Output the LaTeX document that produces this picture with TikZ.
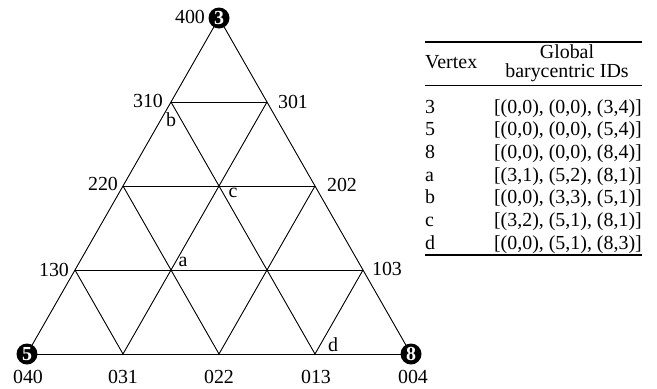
\documentclass[tikz,border=0pt]{standalone}
\usepackage{fontspec}
\setmainfont{Liberation Serif}
\begin{document}
\begin{tikzpicture}[x=1bp,y=-1bp,
  every node/.style={font=\fontsize{20}{24}\selectfont, inner sep=0pt},
  edge/.style={line width=0.9bp, black},
  corner/.style={circle, fill=black, text=white, minimum size=21bp, font=\fontsize{20}{24}\selectfont\bfseries},
  lab/.style={anchor=center},
  toprule/.style={line width=1.3bp},
  midrule/.style={line width=0.8bp}]
\useasboundingbox (0,0) rectangle (657,388);
% grid vertices
\foreach \k in {0,...,4}{
  \foreach \j in {0,...,\k}{
    \coordinate (v-\k-\j) at ({219-48*\k+96*\j},{18+84*\k});
  }
}
% horizontal lines
\foreach \k in {1,...,4}{ \draw[edge] (v-\k-0) -- (v-\k-\k); }
% lines parallel to left side
\foreach \j in {0,...,3}{ \draw[edge] (v-\j-\j) -- (v-4-\j); }
% lines parallel to right side
\foreach \m [evaluate=\m as \e using int(4-\m)] in {0,...,3}{ \draw[edge] (v-\m-0) -- (v-4-\e); }
% corner markers
\node[corner] (c3) at (v-0-0) {3};
\node[corner] (c5) at (v-4-0) {5};
\node[corner] (c8) at (v-4-4) {8};
% vertex labels
\node[lab] (l400) at (190,17) {400};
\node[lab] (l310) at (148,101) {310};
\node[lab] (l301) at (293,102) {301};
\node[lab] (l220) at (103,184) {220};
\node[lab] (l202) at (342,185) {202};
\node[lab] (l130) at (54,270) {130};
\node[lab] (l103) at (387,269) {103};
\node[lab] (l040) at (28,377) {040};
\node[lab] (l031) at (123,377) {031};
\node[lab] (l022) at (219,377) {022};
\node[lab] (l013) at (316,377) {013};
\node[lab] (l004) at (413,377) {004};
\node[lab] (lb) at (171,120) {b};
\node[lab] (lc) at (233,193) {c};
\node[lab] (la) at (183,262) {a};
\node[lab] (ld) at (333,345) {d};
% table
\coordinate (tl) at (425,42); \coordinate (tr) at (642,42);
\coordinate (ml) at (425,85); \coordinate (mr) at (642,85);
\coordinate (bl) at (425,255); \coordinate (br) at (642,255);
\draw[toprule] (tl) -- (tr);
\draw[midrule] (ml) -- (mr);
\draw[toprule] (bl) -- (br);
\node[anchor=base west] (hv) at (425,68) {Vertex};
\node[anchor=base] (hg) at (567,58) {Global};
\node[anchor=base] (hb) at (567,77) {barycentric IDs};
\foreach \n/\v/\t [count=\i from 0] in {r3/3/{[(0,0), (0,0), (3,4)]},
  r5/5/{[(0,0), (0,0), (5,4)]},
  r8/8/{[(0,0), (0,0), (8,4)]},
  ra/a/{[(3,1), (5,2), (8,1)]},
  rb/b/{[(0,0), (3,3), (5,1)]},
  rc/c/{[(3,2), (5,1), (8,1)]},
  rd/d/{[(0,0), (5,1), (8,3)]}}{
  \node[anchor=base west] (\n-v) at (425,{113+22.7*\i}) {\v};
  \node[anchor=base east] (\n-t) at (642,{113+22.7*\i}) {\t};
}
\end{tikzpicture}
\end{document}
